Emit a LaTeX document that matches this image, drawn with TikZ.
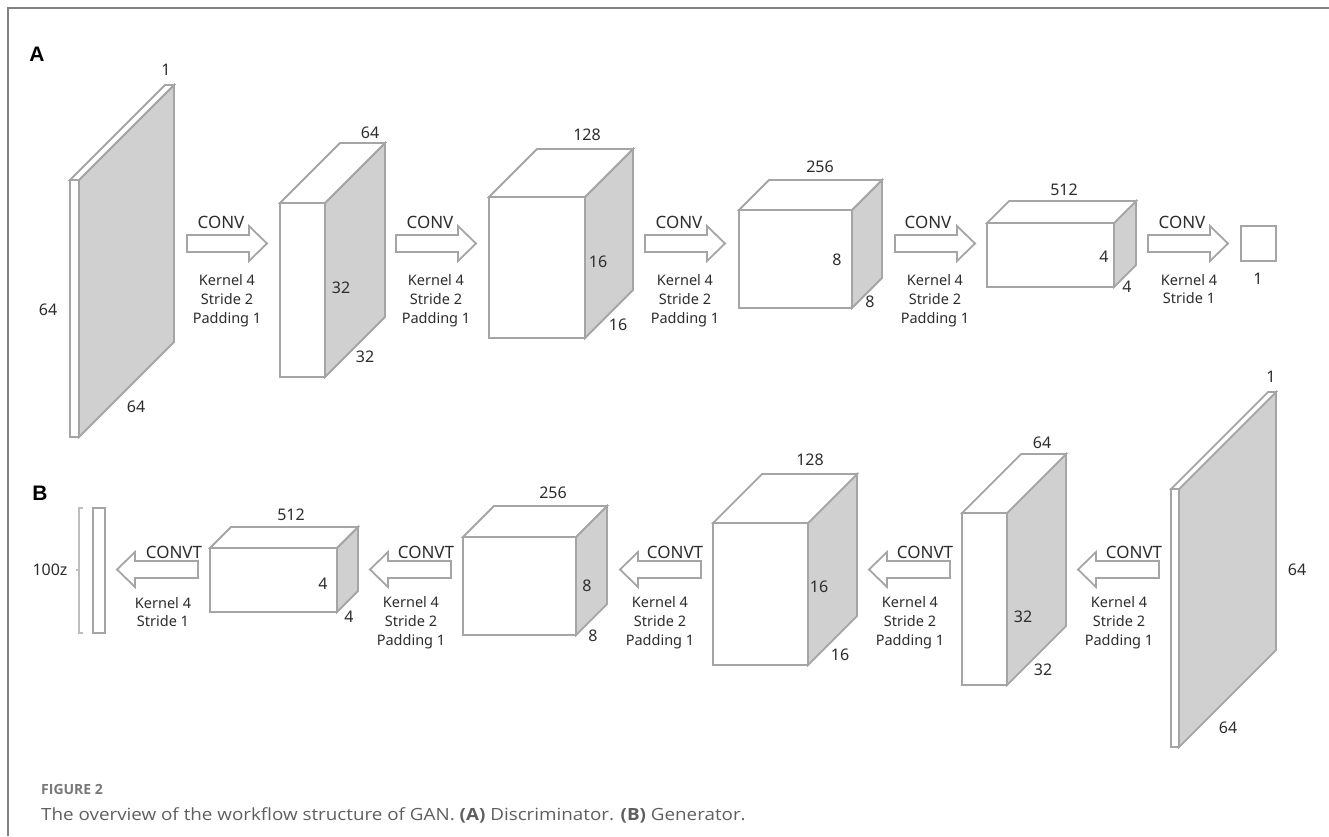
\documentclass[tikz,border=0pt]{standalone}
\usepackage{fontspec}
\setmainfont{Noto Sans}
\newfontfamily\capfont[FakeStretch=1.12]{Open Sans}
\newfontfamily\figfont{Open Sans}
\newfontfamily\panelfont{Liberation Sans}
\definecolor{linegray}{RGB}{165,165,165}
\definecolor{sidegray}{RGB}{208,208,208}
\definecolor{txtgray}{RGB}{45,45,45}
\definecolor{framegray}{RGB}{130,130,130}
\definecolor{capgray}{RGB}{95,95,95}
\definecolor{figgray}{RGB}{120,120,120}
\definecolor{brgray}{RGB}{190,190,190}
\tikzset{
  box/.style={draw=linegray, line width=1.8pt},
  num/.style={text=txtgray, font=\fontsize{16}{19}\selectfont, inner sep=0pt},
  op/.style={text=txtgray, font=\fontsize{17}{20}\selectfont, inner sep=0pt},
  par/.style={text=txtgray, font=\fontsize{14.5}{18.8}\selectfont, align=center, inner sep=0pt},
  panel/.style={text=black, font=\panelfont\fontsize{21}{24}\bfseries\selectfont, inner sep=0pt},
}
% L T R B d
\newcommand\mycuboid[5]{%
  \draw[box,fill=sidegray] (#3,#2) -- (#3+#5,#2-#5) -- (#3+#5,#4-#5) -- (#3,#4) -- cycle;
  \draw[box,fill=white] (#1,#2) -- (#1+#5,#2-#5) -- (#3+#5,#2-#5) -- (#3,#2) -- cycle;
  \draw[box,fill=white] (#1,#2) rectangle (#3,#4);
}
\newcommand\rarr[2]{%
  \draw[box,fill=white] (#1,#2-8.5) -- (#1+62,#2-8.5) -- (#1+62,#2-17.5) -- (#1+80,#2) -- (#1+62,#2+17.5) -- (#1+62,#2+8.5) -- (#1,#2+8.5) -- cycle;
}
\newcommand\larr[2]{%
  \draw[box,fill=white] (#1,#2) -- (#1+18,#2-17.5) -- (#1+18,#2-8.5) -- (#1+81,#2-8.5) -- (#1+81,#2+8.5) -- (#1+18,#2+8.5) -- (#1+18,#2+17.5) -- cycle;
}
\begin{document}
\begin{tikzpicture}[x=1pt,y=-1pt]
\useasboundingbox (0,0) rectangle (1329,836);
% frame
\draw[framegray, line width=1.6pt] (8,836) -- (8,8) -- (1329,8);

% ---------- Panel A ----------
\node[panel] (pA) at (37,54) {A};
\mycuboid{70}{180}{79}{437}{95}
\mycuboid{280}{203}{325}{377}{60}
\mycuboid{489}{197}{585}{338}{48}
\mycuboid{739}{210}{852}{308}{30}
\mycuboid{987}{223}{1114}{287}{22}
\draw[box,fill=white] (1241,226) rectangle (1276,261);
\rarr{187}{243.5}
\rarr{396}{243.5}
\rarr{645}{243.5}
\rarr{895}{243.5}
\rarr{1148}{243.5}

\node[num] (a1t) at (166,70) {1};
\node[num] (a1l) at (48,310) {64};
\node[num] (a1b) at (136,407) {64};
\node[num] (a2t) at (370,133) {64};
\node[num] (a2s) at (341,288) {32};
\node[num] (a2b) at (365,357) {32};
\node[num] (a3t) at (587,135) {128};
\node[num] (a3s) at (598,262) {16};
\node[num] (a3b) at (618,325) {16};
\node[num] (a4t) at (820,167) {256};
\node[num] (a4s) at (837,260) {8};
\node[num] (a4b) at (870,302) {8};
\node[num] (a5t) at (1064,190) {512};
\node[num] (a5s) at (1104,257) {4};
\node[num] (a5b) at (1127,287) {4};
\node[num] (a6) at (1258,279) {1};

\node[op] (c1) at (221,222) {CONV};
\node[op] (c2) at (430,222) {CONV};
\node[op] (c3) at (679,222) {CONV};
\node[op] (c4) at (928,222) {CONV};
\node[op] (c5) at (1182,222) {CONV};
\node[par] (k1) at (227,301) {Kernel 4\\Stride 2\\Padding 1};
\node[par] (k2) at (436,301) {Kernel 4\\Stride 2\\Padding 1};
\node[par] (k3) at (685,301) {Kernel 4\\Stride 2\\Padding 1};
\node[par] (k4) at (935,301) {Kernel 4\\Stride 2\\Padding 1};
\node[par] (k5) at (1189,289) {Kernel 4\\Stride 1};

% ---------- Panel B ----------
\node[panel] (pB) at (40,493) {B};
\draw[brgray, line width=1.2pt] (83,508) -- (79,508) -- (79,633) -- (83,633);
\draw[brgray, line width=1.2pt] (79,570) -- (76,570);
\node[num] (z) at (50,570) {100z};
\draw[box,fill=white] (93,508) rectangle (105,633);
\mycuboid{210}{548}{337}{612}{21}
\mycuboid{463}{537}{576}{635}{31}
\mycuboid{713}{523}{808}{665}{49}
\mycuboid{962}{513}{1007}{685}{59}
\mycuboid{1171}{489}{1179}{747}{97}
\larr{117}{569.5}
\larr{370}{569.5}
\larr{620}{569.5}
\larr{869}{569.5}
\larr{1078}{569.5}

\node[num] (b1t) at (291,515) {512};
\node[num] (b1s) at (323,584) {4};
\node[num] (b1b) at (349,617) {4};
\node[num] (b2t) at (553,493) {256};
\node[num] (b2s) at (587,586) {8};
\node[num] (b2b) at (593,636) {8};
\node[num] (b3t) at (810,460) {128};
\node[num] (b3s) at (819,587) {16};
\node[num] (b3b) at (840,655) {16};
\node[num] (b4t) at (1042,443) {64};
\node[num] (b4s) at (1023,617) {32};
\node[num] (b4b) at (1043,670) {32};
\node[num] (b5t) at (1271,377) {1};
\node[num] (b5r) at (1297,570) {64};
\node[num] (b5b) at (1228,728) {64};

\node[op] (t1) at (174,552) {CONVT};
\node[op] (t2) at (426,552) {CONVT};
\node[op] (t3) at (675,552) {CONVT};
\node[op] (t4) at (925,552) {CONVT};
\node[op] (t5) at (1134,552) {CONVT};
\node[par] (q1) at (163,612) {Kernel 4\\Stride 1};
\node[par] (q2) at (411,623) {Kernel 4\\Stride 2\\Padding 1};
\node[par] (q3) at (660,623) {Kernel 4\\Stride 2\\Padding 1};
\node[par] (q4) at (910,623) {Kernel 4\\Stride 2\\Padding 1};
\node[par] (q5) at (1119,623) {Kernel 4\\Stride 2\\Padding 1};

% ---------- Caption ----------
\node[anchor=west, inner sep=0pt, text=figgray, font=\figfont\fontsize{14}{16}\bfseries\selectfont] (fig) at (41,789) {FIGURE 2};
\node[anchor=west, inner sep=0pt, text=capgray, font=\capfont\fontsize{16.8}{19}\selectfont] (cap) at (41,815) {The overview of the workflow structure of GAN. {\bfseries (A)} Discriminator. {\bfseries (B)} Generator.};
\end{tikzpicture}
\end{document}
